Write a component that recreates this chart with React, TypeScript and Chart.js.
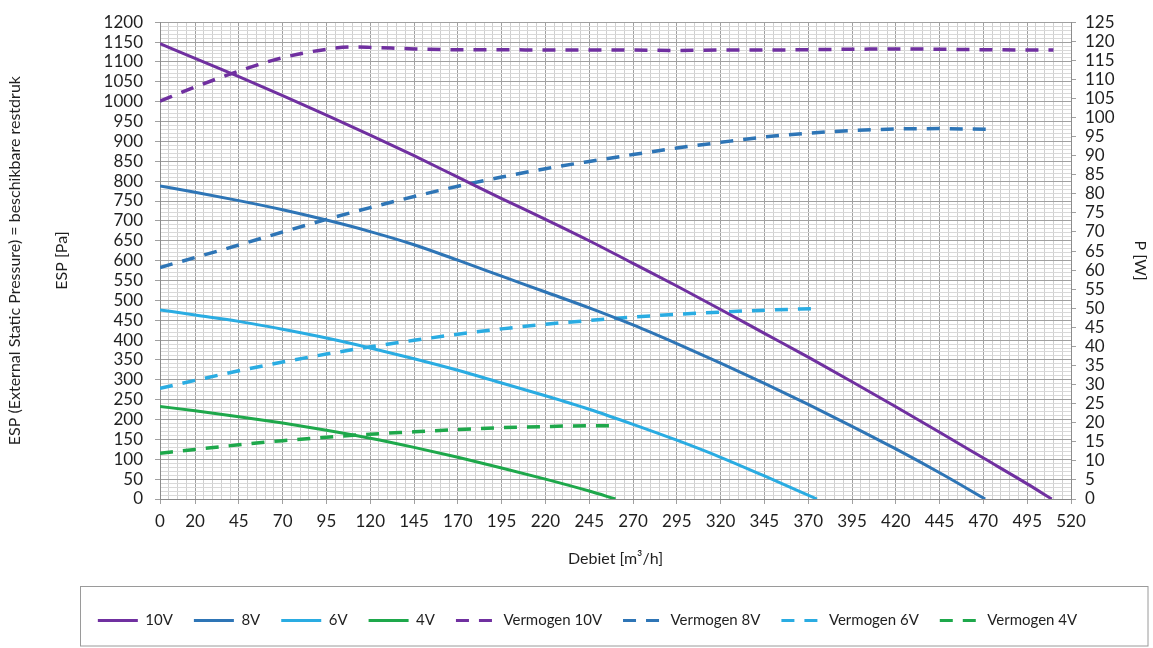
import React, { useEffect, useRef } from 'react';
import { Chart, registerables } from 'chart.js';

Chart.register(...registerables);

// ---- Data ----
const flow10 = [0, 20, 45, 70, 95, 120, 145, 170, 195, 220, 245, 270, 295, 320, 345, 370, 395, 420, 445, 470, 495, 509];
const esp10 = [1146, 1109, 1063, 1015, 966, 916, 864, 810, 756, 704, 650, 593, 536, 477, 417, 357, 295, 232, 168, 103, 38, 0];

const flow8 = [0, 20, 45, 70, 95, 120, 145, 170, 195, 220, 245, 270, 295, 320, 345, 370, 395, 420, 445, 471];
const esp8 = [788, 772, 751, 728, 702, 673, 640, 601, 561, 521, 481, 438, 391, 342, 291, 238, 183, 126, 66, 0];

const flow6 = [0, 20, 45, 70, 95, 120, 145, 170, 195, 220, 245, 270, 295, 320, 345, 375];
const esp6 = [476, 463, 447, 427, 405, 380, 353, 324, 292, 260, 226, 188, 148, 105, 58, 0];

const flow4 = [0, 20, 45, 70, 95, 120, 145, 170, 195, 220, 245, 260];
const esp4 = [233, 222, 207, 191, 173, 153, 130, 105, 78, 50, 20, 0];

const pflow10 = [0, 20, 45, 70, 95, 110, 120, 145, 170, 195, 220, 245, 270, 295, 320, 345, 370, 395, 420, 445, 470, 495, 510];
const power10 = [104.3, 108.0, 112.2, 115.7, 117.9, 118.5, 118.4, 118.0, 117.8, 117.8, 117.7, 117.7, 117.7, 117.6, 117.7, 117.7, 117.8, 117.9, 118.0, 117.9, 117.8, 117.7, 117.7];

const pflow8 = [0, 20, 45, 70, 95, 120, 145, 170, 195, 220, 245, 270, 295, 320, 345, 370, 395, 420, 445, 472];
const power8 = [60.7, 63.3, 66.6, 70.0, 73.3, 76.4, 79.3, 82.0, 84.4, 86.6, 88.5, 90.3, 92.0, 93.5, 94.9, 95.9, 96.6, 97.0, 97.1, 96.9];

const pflow6 = [0, 20, 45, 70, 95, 120, 145, 170, 195, 220, 245, 270, 295, 320, 345, 372];
const power6 = [29.0, 31.1, 33.6, 35.9, 38.0, 39.9, 41.6, 43.2, 44.6, 45.8, 46.8, 47.7, 48.4, 49.0, 49.5, 49.9];

const pflow4 = [0, 20, 45, 70, 95, 120, 145, 170, 195, 220, 245, 258];
const power4 = [12.0, 13.0, 14.2, 15.3, 16.2, 17.0, 17.6, 18.2, 18.7, 19.0, 19.2, 19.2];

const xLabelTicks = [0, 20, 45, 70, 95, 120, 145, 170, 195, 220, 245, 270, 295, 320, 345, 370, 395, 420, 445, 470, 495, 520];

const seriesNames = ['10V', '8V', '6V', '4V', 'Vermogen 10V', 'Vermogen 8V', 'Vermogen 6V', 'Vermogen 4V'];
const seriesColors = ['#7030A0', '#2E75B6', '#2AACE2', '#1EA84B'];

const zip = (xs: number[], ys: number[]) => xs.map((x, i) => ({ x, y: ys[i] }));

const MAJOR = '#A0A0A0';
const MINOR_X = '#CFCFCF';
const MINOR_Y = '#D9D9D9';
const TEXT = '#1f1f1f';
const FONT = 'Lato';
const LEGEND_SHIFT = 11;

const legendBox = {
  id: 'legendBox',
  afterLayout(chart: any) {
    const l = chart.legend;
    if (!l) return;
    l.left += LEGEND_SHIFT;
    l.right += LEGEND_SHIFT;
  },
  afterDraw(chart: any) {
    const l = chart.legend;
    if (!l) return;
    const ctx = chart.ctx;
    ctx.save();
    ctx.strokeStyle = '#9a9a9a';
    ctx.lineWidth = 1;
    const left = 80.5;
    const top = Math.round(l.top) - 5.5;
    ctx.strokeRect(left, top, chart.width - 5 - left, chart.height - 2 - top);
    ctx.restore();
  },
};

export default function App() {
  const ref = useRef<HTMLCanvasElement | null>(null);

  useEffect(() => {
    document.body.style.margin = '0';
    document.body.style.overflow = 'hidden';
    const canvas = ref.current;
    if (!canvas) return;

    const line = (label: string, data: any[], color: string, dashed: boolean, axis: string) => ({
      label,
      data,
      borderColor: color,
      backgroundColor: color,
      borderWidth: dashed ? 3.5 : 3,
      borderDash: dashed ? [13, 10] : [],
      pointRadius: 0,
      pointHoverRadius: 0,
      fill: false,
      cubicInterpolationMode: 'monotone' as const,
      yAxisID: axis,
    });

    const datasets = [
      line(seriesNames[0], zip(flow10, esp10), seriesColors[0], false, 'y'),
      line(seriesNames[1], zip(flow8, esp8), seriesColors[1], false, 'y'),
      line(seriesNames[2], zip(flow6, esp6), seriesColors[2], false, 'y'),
      line(seriesNames[3], zip(flow4, esp4), seriesColors[3], false, 'y'),
      line(seriesNames[4], zip(pflow10, power10), seriesColors[0], true, 'y1'),
      line(seriesNames[5], zip(pflow8, power8), seriesColors[1], true, 'y1'),
      line(seriesNames[6], zip(pflow6, power6), seriesColors[2], true, 'y1'),
      line(seriesNames[7], zip(pflow4, power4), seriesColors[3], true, 'y1'),
    ];

    const isXMajor = (v: number) => xLabelTicks.includes(v);
    const isYMajor = (v: number) => v % 50 === 0;
    const defaultGen = (Chart as any).defaults.plugins.legend.labels.generateLabels;

    const chart = new Chart(canvas, {
      type: 'line',
      data: { datasets },
      plugins: [legendBox],
      options: {
        animation: false,
        responsive: false,
        maintainAspectRatio: false,
        layout: { padding: { top: 22, bottom: 10, left: 0, right: 0 } },
        font: { family: FONT },
        plugins: {
          tooltip: { enabled: false },
          legend: {
            position: 'bottom',
            labels: {
              usePointStyle: true,
              pointStyle: 'line',
              pointStyleWidth: 40,
              padding: 21,
              color: TEXT,
              font: { family: FONT, size: 15 },
              generateLabels: (c: any) =>
                defaultGen(c).map((it: any) => {
                  const ds = c.data.datasets[it.datasetIndex];
                  return {
                    ...it,
                    pointStyle: 'line',
                    lineDash: ds.borderDash,
                    lineWidth: 3,
                    strokeStyle: ds.borderColor,
                    fillStyle: ds.borderColor,
                  };
                }),
            },
          },
        },
        scales: {
          x: {
            type: 'linear',
            min: 0,
            max: 520,
            afterBuildTicks: (scale: any) => {
              const t = [];
              for (let v = 0; v <= 520; v += 5) t.push({ value: v });
              scale.ticks = t;
            },
            afterFit: (scale: any) => { scale.height = 93; },
            ticks: {
              autoSkip: false,
              maxRotation: 0,
              padding: 7,
              color: TEXT,
              font: { family: FONT, size: 17 },
              callback: (v: any) => (isXMajor(Number(v)) ? String(v) : ''),
            },
            grid: {
              color: (c: any) => (c.tick && isXMajor(c.tick.value) ? MAJOR : MINOR_X),
              tickColor: (c: any) => (c.tick && isXMajor(c.tick.value) ? MAJOR : 'rgba(0,0,0,0)'),
              tickLength: 5,
              lineWidth: 1,
            },
            border: { color: '#8c8c8c' },
            title: {
              display: true,
              text: 'Debiet [m³/h]',
              color: TEXT,
              font: { family: FONT, size: 16 },
              padding: { top: 0, bottom: 24 },
            },
          },
          y: {
            type: 'linear',
            position: 'left',
            min: 0,
            max: 1200,
            afterBuildTicks: (scale: any) => {
              const t = [];
              for (let v = 0; v <= 1200; v += 10) t.push({ value: v });
              scale.ticks = t;
            },
            afterFit: (scale: any) => { scale.width = 160; },
            ticks: {
              autoSkip: false,
              padding: 12,
              color: TEXT,
              font: { family: FONT, size: 17 },
              callback: (v: any) => (isYMajor(Number(v)) ? String(v) : ''),
            },
            grid: {
              color: (c: any) => (c.tick && isYMajor(c.tick.value) ? MAJOR : MINOR_Y),
              tickColor: (c: any) => (c.tick && isYMajor(c.tick.value) ? MAJOR : 'rgba(0,0,0,0)'),
              tickLength: 5,
              lineWidth: 1,
            },
            border: { color: '#8c8c8c' },
            title: {
              display: true,
              text: ['ESP (External Static Pressure) = beschikbare restdruk', 'ESP [Pa]'],
              color: TEXT,
              font: { family: FONT, size: 16, lineHeight: 2.94 },
              padding: { top: -8.5, bottom: 0 },
            },
          },
          y1: {
            type: 'linear',
            position: 'right',
            min: 0,
            max: 125,
            afterBuildTicks: (scale: any) => {
              const t = [];
              for (let v = 0; v <= 125; v += 5) t.push({ value: v });
              scale.ticks = t;
            },
            afterFit: (scale: any) => { scale.width = 82; },
            ticks: {
              autoSkip: false,
              padding: 9,
              color: TEXT,
              font: { family: FONT, size: 17 },
              callback: (v: any) => String(v),
            },
            grid: {
              drawOnChartArea: false,
              color: MAJOR,
              tickColor: MAJOR,
              tickLength: 5,
            },
            border: { color: '#8c8c8c' },
            title: {
              display: true,
              text: 'P [W]',
              color: TEXT,
              font: { family: FONT, size: 16 },
              padding: { top: 3, bottom: 0 },
            },
          },
        },
      } as any,
    });

    return () => chart.destroy();
  }, []);

  return (
    <div style={{ width: 1153, height: 648, position: 'relative', background: '#fff' }}>
      <canvas ref={ref} width={1153} height={648} style={{ display: 'block' }} />
    </div>
  );
}
